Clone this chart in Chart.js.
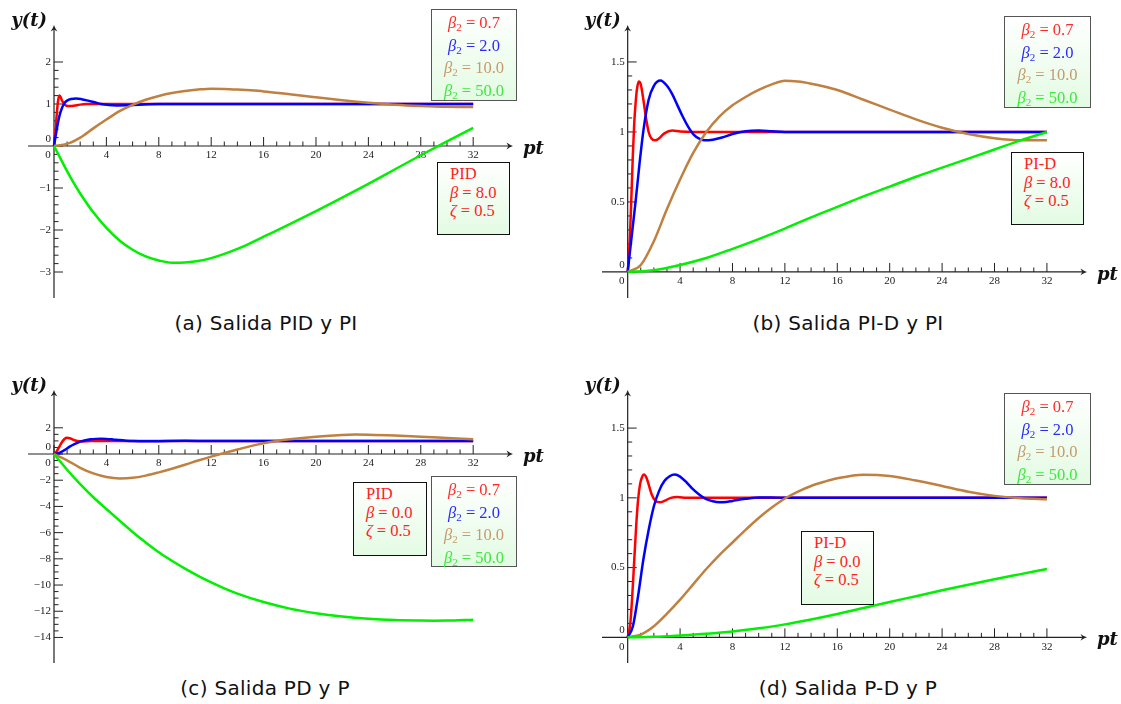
<!DOCTYPE html>
<html>
<head>
<meta charset="utf-8">
<script src="https://cdn.jsdelivr.net/npm/chart.js@4.4.0/dist/chart.umd.min.js"></script>
<style>
  body { margin: 0; background: #fff; width: 1121px; height: 704px; position: relative; overflow: hidden; }
  canvas { position: absolute; }
  .cap { position: absolute; width: 560px; text-align: center; font: 20px "DejaVu Sans", sans-serif;
         letter-spacing: 0.3px; color: #111; }
  .lg, .par { position: absolute; box-sizing: border-box; font: 16.5px "Liberation Serif", serif;
              background: linear-gradient(#ffffff, #e3fbe3); }
  .lg { border: 1.6px solid #555; text-align: center; line-height: 22.7px; padding-top: 2px; }
  .par { border: 1.3px solid #111; text-align: left; line-height: 18.5px; padding: 2px 0 0 12px; color: #f22; }
  sub { font-size: 11px; line-height: 0; vertical-align: -3px; }
  .r { color: #ff2a2a; } .b { color: #2a2aff; } .o { color: #c49a6c; } .g { color: #3ee83e; }
</style>
</head>
<body>
<canvas id="cA" width="560" height="310" style="left:0;top:0"></canvas>
<canvas id="cB" width="561" height="310" style="left:560px;top:0"></canvas>
<canvas id="cC" width="560" height="310" style="left:0;top:365px"></canvas>
<canvas id="cD" width="561" height="310" style="left:560px;top:365px"></canvas>

<div class="lg" style="left:431px;top:9px;width:86px;height:92px">
  <div class="r"><i>β</i><sub>2</sub> = 0.7</div><div class="b"><i>β</i><sub>2</sub> = 2.0</div>
  <div class="o"><i>β</i><sub>2</sub> = 10.0</div><div class="g"><i>β</i><sub>2</sub> = 50.0</div>
</div>
<div class="par" style="left:437px;top:162px;width:73px;height:73px">PID<br><i>β</i> = 8.0<br><i>ζ</i> = 0.5</div>

<div class="lg" style="left:1004px;top:16px;width:87px;height:92px">
  <div class="r"><i>β</i><sub>2</sub> = 0.7</div><div class="b"><i>β</i><sub>2</sub> = 2.0</div>
  <div class="o"><i>β</i><sub>2</sub> = 10.0</div><div class="g"><i>β</i><sub>2</sub> = 50.0</div>
</div>
<div class="par" style="left:1011px;top:152px;width:73px;height:73px">PI-D<br><i>β</i> = 8.0<br><i>ζ</i> = 0.5</div>

<div class="par" style="left:353px;top:482px;width:74px;height:74px">PID<br><i>β</i> = 0.0<br><i>ζ</i> = 0.5</div>
<div class="lg" style="left:431px;top:476px;width:86px;height:91px">
  <div class="r"><i>β</i><sub>2</sub> = 0.7</div><div class="b"><i>β</i><sub>2</sub> = 2.0</div>
  <div class="o"><i>β</i><sub>2</sub> = 10.0</div><div class="g"><i>β</i><sub>2</sub> = 50.0</div>
</div>

<div class="lg" style="left:1004px;top:393px;width:87px;height:92px">
  <div class="r"><i>β</i><sub>2</sub> = 0.7</div><div class="b"><i>β</i><sub>2</sub> = 2.0</div>
  <div class="o"><i>β</i><sub>2</sub> = 10.0</div><div class="g"><i>β</i><sub>2</sub> = 50.0</div>
</div>
<div class="par" style="left:801px;top:531px;width:73px;height:74px">PI-D<br><i>β</i> = 0.0<br><i>ζ</i> = 0.5</div>

<div class="cap" style="left:-14px;top:311px">(a) Salida PID y PI</div>
<div class="cap" style="left:568px;top:311px">(b) Salida PI-D y PI</div>
<div class="cap" style="left:-15px;top:676px">(c) Salida PD y P</div>
<div class="cap" style="left:568px;top:676px">(d) Salida P-D y P</div>

<script>
// tick labels
var xTicks  = [0, 4, 8, 12, 16, 20, 24, 28, 32];
var yTicksA = [-3, -2, -1, 0, 1, 2];
var yTicksB = [0, 0.5, 1, 1.5];
var yTicksC = [-14, -12, -10, -8, -6, -4, -2, 0, 2];
var yTicksD = [0, 0.5, 1, 1.5];

// (a) PID y PI, beta = 8
var tRedA   = [0, 0.1, 0.2, 0.3, 0.4, 0.5, 0.6, 0.8, 1.0, 1.3, 1.6, 2.0, 2.5, 3, 32];
var yRedA   = [0, 0.3, 0.72, 1.05, 1.2, 1.17, 1.09, 0.99, 0.955, 0.95, 0.965, 0.985, 0.998, 1.0, 1.0];
var tBlueA  = [0, 0.2, 0.4, 0.6, 0.8, 1.0, 1.3, 1.7, 2.1, 2.6, 3.1, 3.6, 4.2, 4.8, 5.5, 6.5, 8, 32];
var yBlueA  = [0, 0.38, 0.7, 0.9, 1.02, 1.08, 1.12, 1.13, 1.115, 1.08, 1.04, 1.0, 0.975, 0.967, 0.97, 0.985, 1.0, 1.0];
var tBrownA = [0, 1, 2, 3, 4, 5, 6, 7, 8, 9, 10, 11, 12, 13, 14, 15, 16, 18, 20, 22, 24, 26, 28, 30, 32];
var yBrownA = [0, 0.05, 0.2, 0.42, 0.63, 0.83, 0.98, 1.1, 1.19, 1.26, 1.31, 1.345, 1.366, 1.36, 1.345, 1.325, 1.3, 1.23, 1.16, 1.09, 1.03, 0.985, 0.955, 0.935, 0.93];
var tGreenA = [0, 0.5, 1, 1.5, 2, 3, 4, 5, 6, 7, 8, 9, 10, 11, 12, 13, 14, 15, 16, 18, 20, 22, 24, 26, 28, 30, 32];
var yGreenA = [0, -0.3, -0.6, -0.88, -1.13, -1.58, -1.95, -2.25, -2.47, -2.63, -2.725, -2.78, -2.772, -2.74, -2.67, -2.57, -2.45, -2.31, -2.16, -1.86, -1.55, -1.23, -0.9, -0.56, -0.22, 0.11, 0.43];

// (b) PI-D y PI, beta = 8
var tRedB   = [0, 0.1, 0.2, 0.3, 0.4, 0.5, 0.6, 0.7, 0.85, 1.0, 1.2, 1.4, 1.6, 1.8, 2.1, 2.4, 2.8, 3.4, 4.0, 5, 32];
var yRedB   = [0, 0.12, 0.32, 0.58, 0.85, 1.06, 1.2, 1.3, 1.36, 1.34, 1.23, 1.1, 1.0, 0.955, 0.94, 0.955, 0.99, 1.01, 1.003, 1.0, 1.0];
var tBlueB  = [0, 0.3, 0.6, 0.9, 1.2, 1.6, 2.0, 2.5, 3.0, 3.4, 3.8, 4.2, 4.6, 5.0, 5.5, 5.9, 6.5, 7.2, 8, 9, 10, 11, 12, 32];
var yBlueB  = [0, 0.25, 0.5, 0.77, 1.01, 1.23, 1.33, 1.367, 1.33, 1.27, 1.19, 1.11, 1.04, 0.985, 0.95, 0.94, 0.945, 0.96, 0.985, 1.005, 1.01, 1.005, 1.0, 1.0];
var tBrownB = [0, 1, 2, 3, 4, 5, 6, 7, 8, 9, 10, 11, 12, 13, 14, 15, 16, 18, 20, 22, 24, 26, 28, 30, 32];
var yBrownB = [0, 0.05, 0.22, 0.45, 0.66, 0.85, 1.0, 1.11, 1.19, 1.25, 1.3, 1.34, 1.366, 1.36, 1.345, 1.325, 1.3, 1.23, 1.16, 1.09, 1.03, 0.985, 0.955, 0.94, 0.94];
var tGreenB = [0, 2, 4, 6, 8, 10, 12, 14, 16, 18, 20, 22, 24, 26, 28, 30, 32];
var yGreenB = [0, 0.012, 0.05, 0.1, 0.165, 0.235, 0.31, 0.39, 0.465, 0.54, 0.61, 0.68, 0.745, 0.81, 0.875, 0.94, 1.0];

// (c) PD y P, beta = 0
var tRedC   = [0, 0.2, 0.4, 0.6, 0.8, 1.0, 1.2, 1.5, 1.8, 2.2, 2.6, 3.2, 4, 32];
var yRedC   = [0, 0.2, 0.55, 0.9, 1.15, 1.24, 1.2, 1.08, 0.99, 0.96, 0.975, 1.0, 1.0, 1.0];
var tBlueC  = [0, 0.4, 0.8, 1.2, 1.6, 2.0, 2.4, 2.8, 3.2, 3.6, 4.0, 4.5, 5.0, 5.5, 6.0, 6.5, 7.0, 8, 10, 12, 32];
var yBlueC  = [0, 0.08, 0.3, 0.56, 0.77, 0.94, 1.05, 1.12, 1.155, 1.167, 1.152, 1.11, 1.06, 1.02, 0.99, 0.975, 0.968, 0.978, 1.003, 1.0, 1.0];
var tBrownC = [0, 1, 2, 3, 4, 5, 6, 7, 8, 9, 10, 11, 12, 13, 14, 15, 16, 17, 18, 20, 22, 23, 24, 26, 28, 30, 32];
var yBrownC = [0, -0.48, -1.05, -1.48, -1.75, -1.86, -1.82, -1.65, -1.4, -1.12, -0.82, -0.5, -0.2, 0.08, 0.34, 0.6, 0.82, 1.0, 1.13, 1.32, 1.45, 1.48, 1.47, 1.41, 1.32, 1.22, 1.12];
var tGreenC = [0, 1, 2, 3, 4, 5, 6, 7, 8, 9, 10, 11, 12, 13, 14, 16, 18, 20, 22, 24, 26, 28, 29, 30, 32];
var yGreenC = [0, -1.2, -2.3, -3.3, -4.2, -5.08, -5.95, -6.75, -7.5, -8.15, -8.75, -9.3, -9.8, -10.25, -10.65, -11.3, -11.8, -12.15, -12.4, -12.57, -12.67, -12.71, -12.72, -12.71, -12.64];

// (d) P-D y P, beta = 0
var tRedD   = [0, 0.2, 0.35, 0.5, 0.65, 0.8, 0.95, 1.1, 1.25, 1.45, 1.65, 1.85, 2.1, 2.45, 2.8, 3.3, 3.8, 4.5, 6, 32];
var yRedD   = [0, 0.1, 0.3, 0.55, 0.8, 0.99, 1.1, 1.15, 1.167, 1.14, 1.08, 1.02, 0.98, 0.968, 0.978, 1.0, 1.006, 1.0, 1.0, 1.0];
var tBlueD  = [0, 0.4, 0.8, 1.2, 1.6, 2.0, 2.4, 2.8, 3.2, 3.6, 4.0, 4.5, 5.0, 5.5, 6.0, 6.5, 7.0, 7.5, 8, 9, 10, 11, 12, 32];
var yBlueD  = [0, 0.08, 0.3, 0.56, 0.77, 0.94, 1.05, 1.12, 1.155, 1.167, 1.152, 1.11, 1.06, 1.02, 0.99, 0.975, 0.968, 0.97, 0.978, 0.993, 1.003, 1.003, 1.0, 1.0];
var tBrownD = [0, 1, 2, 3, 4, 5, 6, 7, 8, 9, 10, 11, 12, 13, 14, 15, 16, 18, 20, 22, 24, 26, 28, 30, 32];
var yBrownD = [0, 0.02, 0.08, 0.17, 0.27, 0.38, 0.49, 0.59, 0.68, 0.77, 0.855, 0.93, 0.995, 1.045, 1.085, 1.115, 1.14, 1.166, 1.157, 1.124, 1.085, 1.044, 1.014, 0.997, 0.99];
var tGreenD = [0, 2, 4, 6, 8, 10, 12, 14, 16, 18, 20, 22, 24, 26, 28, 30, 32];
var yGreenD = [0, 0.004, 0.014, 0.026, 0.042, 0.065, 0.093, 0.128, 0.167, 0.21, 0.253, 0.295, 0.337, 0.377, 0.416, 0.453, 0.49];

var RED = '#ff0000', BLUE = '#0000ff', BROWN = '#bf8040', GREEN = '#00f000';

function pts(t, y) {
    return t.map(function(v, i) { return {x: v, y: y[i]}; });
}

function fmt(v) {
    return (v < 0 ? '\u2212' : '') + String(Math.abs(v));
}

// small latex-like arrow head, tip at (x, y)
function arrowHead(ctx, x, y, ang) {
    ctx.save();
    ctx.translate(x, y);
    ctx.rotate(ang);
    ctx.beginPath();
    ctx.moveTo(0, 0);
    ctx.quadraticCurveTo(-3, -0.8, -6.5, -3.4);
    ctx.lineTo(-4.6, 0);
    ctx.lineTo(-6.5, 3.4);
    ctx.quadraticCurveTo(-3, 0.8, 0, 0);
    ctx.fill();
    ctx.restore();
}

// axes through the origin, drawn below the curves
var axesPlugin = {
    id: 'axes',
    beforeDatasetsDraw: function(chart, args, o) {
        var ctx = chart.ctx, ca = chart.chartArea;
        var xs = chart.scales.x, ys = chart.scales.y;
        var x0 = xs.getPixelForValue(0), y0 = ys.getPixelForValue(0);
        ctx.save();
        ctx.strokeStyle = '#222';
        ctx.fillStyle = '#222';
        ctx.lineWidth = 1.2;

        ctx.beginPath();
        ctx.moveTo(ca.left, y0); ctx.lineTo(ca.right - 3, y0);
        ctx.moveTo(x0, ca.bottom); ctx.lineTo(x0, ca.top + 3);
        ctx.stroke();
        arrowHead(ctx, ca.right, y0, 0);
        arrowHead(ctx, x0, ca.top, -Math.PI / 2);

        // x ticks, minor every 1
        ctx.lineWidth = 1;
        ctx.beginPath();
        for (var i = 0; i <= 32; i++) {
            var px = xs.getPixelForValue(i);
            var len = (i % 4 === 0) ? 9 : 4.5;
            ctx.moveTo(px, y0); ctx.lineTo(px, y0 - len);
        }
        // y ticks
        var yt = o.ticks, from = yt[0], to = yt[yt.length - 1];
        var n = Math.round((to - from) / o.minor);
        for (var j = 0; j <= n; j++) {
            var v = from + j * o.minor;
            var major = yt.some(function(t) { return Math.abs(t - v) < 1e-6; });
            var py = ys.getPixelForValue(v);
            ctx.moveTo(x0, py); ctx.lineTo(x0 + (major ? 9 : 4.5), py);
        }
        ctx.stroke();

        ctx.font = '11px "Liberation Serif", serif';
        ctx.fillStyle = '#222';
        ctx.textAlign = 'center';
        ctx.textBaseline = 'top';
        xTicks.forEach(function(t) {
            var px = xs.getPixelForValue(t);
            ctx.fillText(fmt(t), t === 0 ? px - 6 : px, y0 + 4);
        });
        ctx.textAlign = 'right';
        ctx.textBaseline = 'middle';
        yt.forEach(function(t) {
            var py = ys.getPixelForValue(t);
            ctx.fillText(fmt(t), x0 - 3, t === 0 ? py - 7 : py);
        });

        ctx.font = 'italic bold 18px "DejaVu Serif", serif';
        ctx.fillStyle = '#111';
        ctx.textAlign = 'right';
        ctx.textBaseline = 'middle';
        ctx.fillText('y(t)', x0 - 7, ca.top - 4);
        ctx.textAlign = 'left';
        ctx.fillText('pt', ca.right + 10, y0 + 3);
        ctx.restore();
    }
};

function makeChart(id, series, xr, yr, pad, yTicks, minor) {
    var colors = [RED, BLUE, BROWN, GREEN];
    return new Chart(document.getElementById(id), {
        type: 'line',
        data: {
            datasets: series.map(function(s, k) {
                return {
                    data: pts(s[0], s[1]),
                    borderColor: colors[k],
                    borderWidth: 2.5,
                    order: 3 - k,
                    fill: false,
                    pointRadius: 0,
                    cubicInterpolationMode: 'monotone'
                };
            })
        },
        options: {
            responsive: false,
            animation: false,
            events: [],
            layout: { padding: pad },
            scales: {
                x: { type: 'linear', min: xr[0], max: xr[1], display: false },
                y: { type: 'linear', min: yr[0], max: yr[1], display: false }
            },
            plugins: {
                legend: { display: false },
                tooltip: { enabled: false },
                axes: { ticks: yTicks, minor: minor }
            }
        },
        plugins: [axesPlugin]
    });
}

makeChart('cA', [[tRedA, yRedA], [tBlueA, yBlueA], [tBrownA, yBrownA], [tGreenA, yGreenA]],
          [-1.985, 35.04], [-3.619, 2.881], {left: 28, right: 47, top: 25, bottom: 12}, yTicksA, 0.2);
makeChart('cB', [[tRedB, yRedB], [tBlueB, yBlueB], [tBrownB, yBrownB], [tGreenB, yGreenB]],
          [-1.96, 35.06], [-0.186, 1.764], {left: 42, right: 34, top: 25, bottom: 12}, yTicksB, 0.1);
makeChart('cC', [[tRedC, yRedC], [tBlueC, yBlueC], [tBrownC, yBrownC], [tGreenC, yGreenC]],
          [-1.985, 35.04], [-15.95, 4.885], {left: 28, right: 47, top: 25, bottom: 12}, yTicksC, 0.5);
makeChart('cD', [[tRedD, yRedD], [tBlueD, yBlueD], [tBrownD, yBrownD], [tGreenD, yGreenD]],
          [-1.96, 35.06], [-0.184, 1.773], {left: 42, right: 34, top: 25, bottom: 12}, yTicksD, 0.1);
</script>
</body>
</html>
